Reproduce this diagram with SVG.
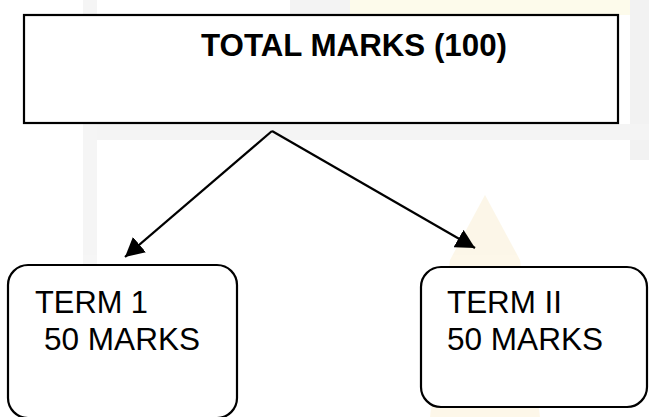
<svg xmlns="http://www.w3.org/2000/svg" width="649" height="417" viewBox="0 0 649 417">
<style>
.box{fill:#ffffff;stroke:#000000;stroke-width:2.2}
.conn{fill:none;stroke:#000000;stroke-width:2.2}
.title{font-family:"Liberation Sans",Arial,sans-serif;font-weight:bold;font-size:31px;fill:#000000}
.lbl{font-family:"Liberation Sans",Arial,sans-serif;font-size:32px;fill:#000000}
</style>
<defs>
<marker id="arrow" markerUnits="userSpaceOnUse" markerWidth="20" markerHeight="20" refX="19" refY="10" orient="auto">
<path d="M0,0 L19,10 L0,20 z" fill="#000000"/>
</marker>
</defs>
<rect x="0" y="0" width="649" height="417" fill="#ffffff"/>
<g id="background" opacity="0.35">
<rect x="83" y="0" width="14" height="417" fill="#e4e4e4"/>
<rect x="290" y="0" width="60" height="15" fill="#dddddd"/>
<rect x="350" y="0" width="280" height="15" fill="#fbf6c8"/>
<rect x="630" y="0" width="19" height="160" fill="#dcdcdc"/>
<rect x="97" y="124" width="552" height="16" fill="#e0e0e0"/>
<path d="M485,195 L520,260 L540,417 L430,417 L450,260 Z" fill="#f8e8c0"/>
</g>
<g id="total">
<rect class="box" x="24" y="15" width="594" height="108"/>
<text class="title" x="201" y="56" textLength="306" lengthAdjust="spacingAndGlyphs">TOTAL MARKS (100)</text>
</g>
<g id="connectors">
<path class="conn" d="M272,131 L125,257" marker-end="url(#arrow)"/>
<path class="conn" d="M272,131 L475,248" marker-end="url(#arrow)"/>
</g>
<g id="term1">
<rect class="box" x="8" y="265" width="229" height="153" rx="20" ry="20"/>
<text class="lbl" x="35" y="313" textLength="113" lengthAdjust="spacingAndGlyphs">TERM 1</text>
<text class="lbl" x="44" y="350" textLength="156" lengthAdjust="spacingAndGlyphs">50 MARKS</text>
</g>
<g id="term2">
<rect class="box" x="421" y="267" width="226" height="140" rx="20" ry="20"/>
<text class="lbl" x="447" y="313" textLength="115" lengthAdjust="spacingAndGlyphs">TERM II</text>
<text class="lbl" x="447" y="350" textLength="156" lengthAdjust="spacingAndGlyphs">50 MARKS</text>
</g>
</svg>
